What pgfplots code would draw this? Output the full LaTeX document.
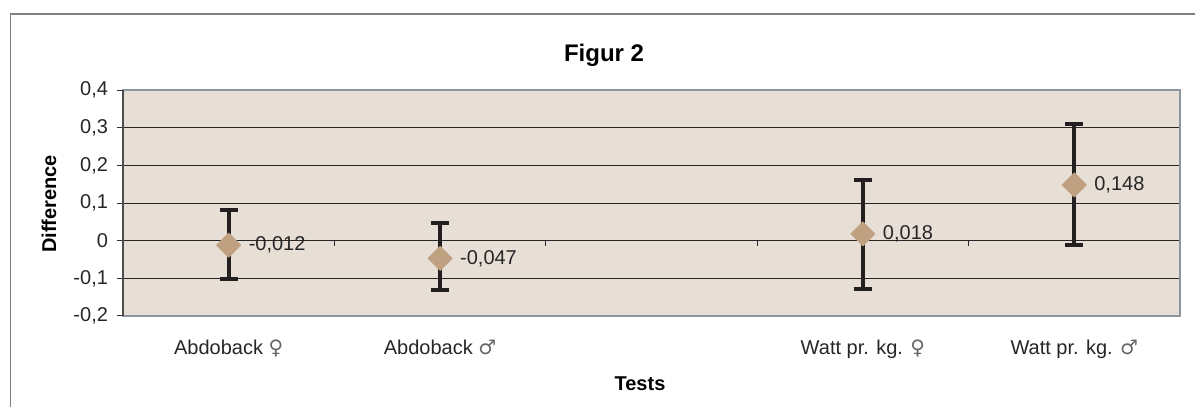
\documentclass[border=0pt]{standalone}
\usepackage{fontspec}
\setmainfont{Liberation Sans}
\newfontfamily\dejavu{DejaVu Sans}
\usepackage{pgfplots}
\pgfplotsset{compat=1.18}
\usepackage{pgfplotstable}
\definecolor{bgc}{HTML}{E7DFD6}
\definecolor{mk}{HTML}{BFA181}
\definecolor{eb}{HTML}{231F20}
\definecolor{spine}{HTML}{8E979F}
\definecolor{frame}{HTML}{808080}
\pgfplotstableread{
x y ep em label
1 -0.012 0.093 0.091 {-0,012}
2 -0.047 0.095 0.084 {-0,047}
4 0.018 0.142 0.145 {0,018}
5 0.148 0.161 0.159 {0,148}
}\datatab
\begin{document}
\begin{tikzpicture}
\path[use as bounding box] (0,0) rectangle (597.5pt,203.5pt);
\draw[frame, line width=0.8pt] (5.25pt,0) -- (5.25pt,196.5pt) -- (600pt,196.5pt);
\node[font=\fontsize{12}{14}\selectfont\bfseries, anchor=base] at (302pt,172.5pt) {Figur 2};
\node[font=\fontsize{10}{12}\selectfont\bfseries, anchor=base] at (320pt,8pt) {Tests};
\node[font=\fontsize{10}{12}\selectfont\bfseries, rotate=90] at (24.5pt,101.5pt) {Difference};
\begin{axis}[
  at={(61.5pt,45.5pt)}, anchor=south west,
  scale only axis, width=528.5pt, height=113pt,
  xmin=0.5, xmax=5.5, ymin=-0.2, ymax=0.4,
  axis line style={draw=none},
  axis background/.style={fill=bgc},
  xtick={1,2,4,5},
  xticklabels={{Abdoback {\dejavu\color{black!60}♀}},{Abdoback {\dejavu\color{black!60}♂}},{Watt pr. kg. {\dejavu\color{black!60}♀}},{Watt pr. kg. {\dejavu\color{black!60}♂}}},
  xtick style={draw=none},
  xticklabel style={anchor=base, yshift=-16.5pt, font=\fontsize{10}{12}\selectfont, text=black!85},
  ytick={-0.2,-0.1,0,0.1,0.2,0.3,0.4},
  yticklabels={{-0,2},{-0,1},0,{0,1},{0,2},{0,3},{0,4}},
  yticklabel style={font=\fontsize{10}{12}\selectfont, text=black!85, xshift=-1pt},
  ytick pos=left, tick align=outside, major tick length=3pt,
  ytick style={black!80, line width=0.5pt},
  ymajorgrids, grid style={black!85, line width=0.5pt},
  clip=false,
]
\addplot[only marks, mark=square*, mark size=4.2pt,
  mark options={rotate=45, fill=mk, draw=mk},
  error bars/.cd, y dir=both, y explicit,
  error bar style={eb, line width=2pt},
  error mark options={rotate=90, mark size=4.5pt, line width=2pt, eb}]
  table[x=x, y=y, y error plus=ep, y error minus=em] {\datatab};
\addplot[only marks, mark=square*, mark size=4.2pt,
  mark options={rotate=45, fill=mk, draw=mk},
  point meta=explicit symbolic,
  nodes near coords,
  nodes near coords align=horizontal,
  every node near coord/.append style={anchor=west, xshift=6.5pt, font=\fontsize{10}{12}\selectfont, text=black!85}]
  table[x=x, y=y, meta=label] {\datatab};
\pgfplotsinvokeforeach{1.5,2.5,3.5,4.5,5.5}{\draw[black!85, line width=0.5pt] (axis cs:#1,0) -- ([yshift=-2.5pt]axis cs:#1,0);}
\draw[spine, line width=0.9pt] (rel axis cs:0,0) rectangle (rel axis cs:1,1);
\draw[black!70, line width=0.7pt] (rel axis cs:0,0) -- (rel axis cs:0,1);
\end{axis}
\end{tikzpicture}
\end{document}
